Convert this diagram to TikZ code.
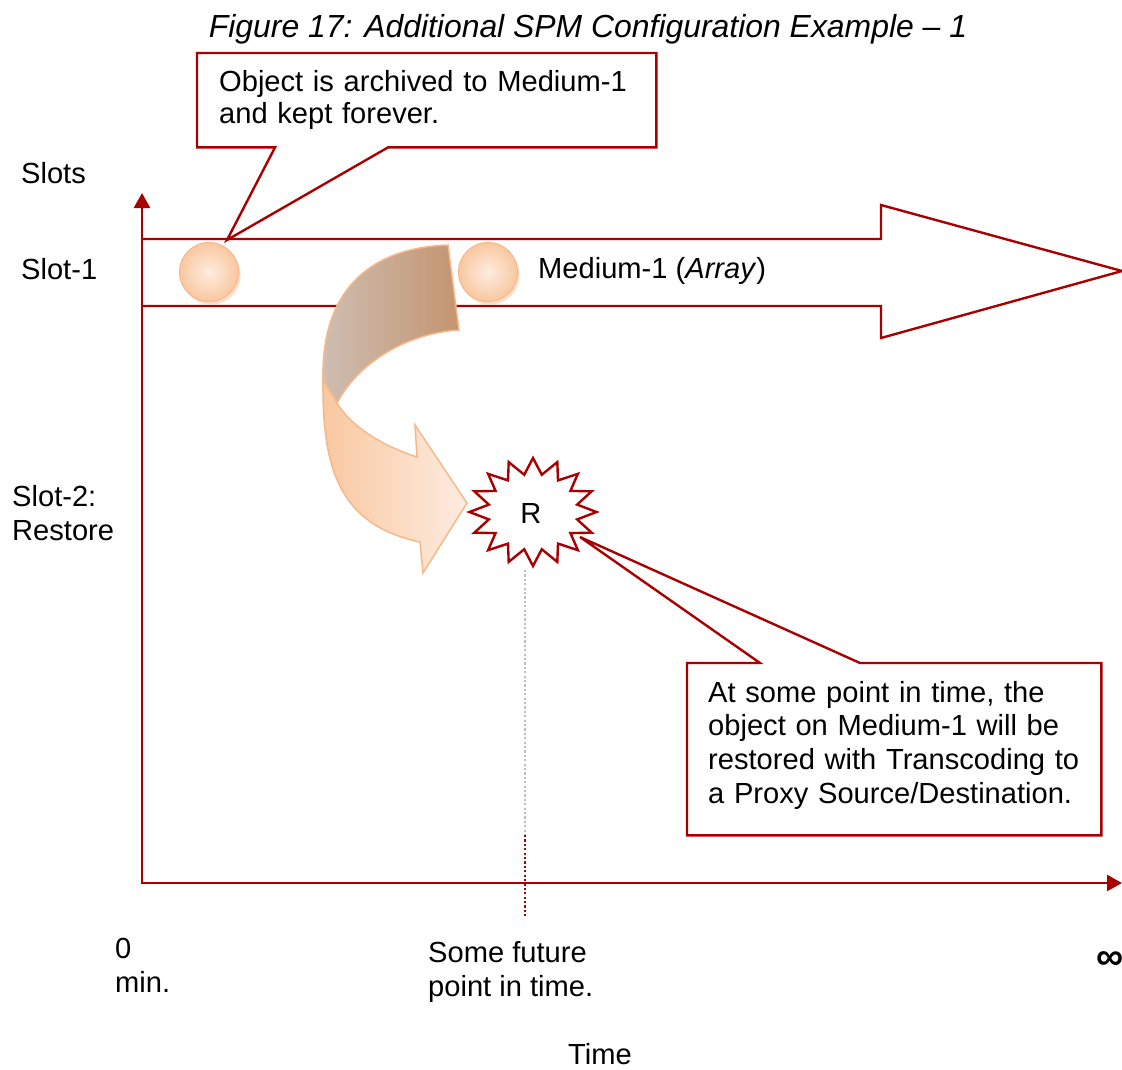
\documentclass[tikz,border=0pt]{standalone}
\usepackage{fontspec}
\setmainfont{Liberation Sans}
\usetikzlibrary{arrows.meta}
\definecolor{spmred}{RGB}{168,0,0}
\definecolor{peachlight}{RGB}{253,236,224}
\definecolor{peach}{RGB}{249,200,160}
\definecolor{peachedge}{RGB}{246,184,138}
\definecolor{twistlight}{RGB}{206,190,178}
\definecolor{twistdark}{RGB}{196,148,112}
\definecolor{dotgray}{RGB}{190,190,190}
\tikzset{
    %one unit is one pixel of the figure
    >={Triangle[length=15pt,width=16pt]},
}

\begin{document}
\begin{tikzpicture}[x=1pt, y=-1pt,
    every node/.style = {font=\fontsize{29.1pt}{34pt}\selectfont, inner sep=0pt},
    lbl/.style = {anchor=base west, align=left},
    axisline/.style = {draw=spmred, line width=2.6pt},
    medium/.style = {draw=spmred, line width=2.4pt, line join=miter},
    bead/.style = {draw=peachedge, line width=1pt, inner color=peachlight, outer color=peach},
    twist/.style = {draw=peachedge, line width=1.5pt},
    starline/.style = {draw=spmred, line width=2.4pt, fill=white},
    note/.style = {anchor=north west, align=left, inner xsep=22pt},
    noteline/.style = {draw=spmred, line width=2.4pt},
    futline/.style = {line width=2.2pt, dash pattern=on 2.2pt off 2.2pt},
  ]
  \useasboundingbox (0,0) rectangle (1122,1069);

  \coordinate (origin) at (142,883);
  \coordinate (ytop) at (142,193);
  \coordinate (xend) at (1122,883);
  \draw[axisline,<->] (ytop) -- (origin) -- (xend);

  % Medium-1 band
  \draw[medium] (143,239) -- (881,239) -- (881,205) -- (1122,271)
    -- (881,338) -- (881,306) -- (143,306);

  \fill[peachedge, opacity=.5] (211,275) circle (29.5);
  \shade[bead] (209,272) circle (29.5);
  \fill[peachedge, opacity=.5] (490,275) circle (29.5);
  \shade[bead] (488,272) circle (29.5);

  % twisted arrow down to the restore
  \shade[twist, left color=twistlight, right color=twistdark]
    (448,245) .. controls (365,248) and (321,295) .. (323,380)
    -- (337,403) .. controls (360,360) and (410,333) .. (459,330) -- cycle;
  \shade[twist, left color=peach, right color=peachlight]
    (323,380) .. controls (322,470) and (340,525) .. (420,542)
    -- (423,573) -- (467,503) -- (415,425) -- (417,457)
    .. controls (380,445) and (350,425) .. (337,403) -- cycle;

  \draw[starline] (533,458) \foreach \a in {0,22.5,...,337.5} {
      -- ({533+45*sin(\a+11.25)},{512-38*cos(\a+11.25)})
      -- ({533+63.5*sin(\a+22.5)},{512-54*cos(\a+22.5)}) } -- cycle;
  \node (restore) at (531,513) {R};

  \coordinate (futtop) at (525,570);
  \coordinate (futmid) at (525,835);
  \coordinate (futbot) at (525,917);
  \draw[futline, dotgray] (futtop) -- (futmid);
  \draw[futline, spmred] (futmid) -- (futbot);

  % callouts
  \coordinate (tip1) at (227,240);
  \coordinate (tip2) at (580,537);
  \node[note, text width=415pt, minimum width=459pt, minimum height=94pt,
        font=\fontsize{29.1pt}{32.5pt}\selectfont] (note1) at (197,53)
    {Object is archived to Medium-1\\and kept forever.};
  \draw[noteline] (note1.north west) -- (note1.north east) -- (note1.south east)
    -- ([xshift=191pt]note1.south west) -- (tip1)
    -- ([xshift=78pt]note1.south west) -- (note1.south west) -- cycle;
  \node[note, text width=372pt, minimum width=414pt, minimum height=164pt,
        inner xsep=21pt, font=\fontsize{29.1pt}{33.7pt}\selectfont] (note2) at (687,663)
    {At some point in time, the\\object on Medium-1 will be\\restored with Transcoding to\\a Proxy Source/Destination.};
  \draw[noteline] (note2.north west) -- ([xshift=73pt]note2.north west) -- (tip2)
    -- ([xshift=173pt]note2.north west) -- (note2.north east)
    -- ([yshift=-8pt]note2.south east) -- ([yshift=-8pt]note2.south west) -- cycle;

  % texts
  \node[anchor=base, font=\fontsize{31.9pt}{36pt}\selectfont] (title) at (588,37)
    {\itshape Figure 17: Additional SPM Configuration Example – 1};
  \node[lbl] (slots) at (21,183) {Slots};
  \node[lbl] (slot1) at (21,279) {Slot-1};
  \node[lbl] (slot2) at (12,540) {Slot-2:\\Restore};
  \node[lbl] (medium1) at (538,278) {Medium-1 (\textit{Array})};
  \node[lbl] (zero) at (115,992) {0\\min.};
  \node[lbl] (future) at (428,996) {Some future\\point in time.};
  \node[lbl, font=\fontsize{38pt}{40pt}\selectfont] (infty) at (1096,969) {\bfseries ∞};
  \node[lbl] (time) at (568,1064) {Time};
\end{tikzpicture}
\end{document}
